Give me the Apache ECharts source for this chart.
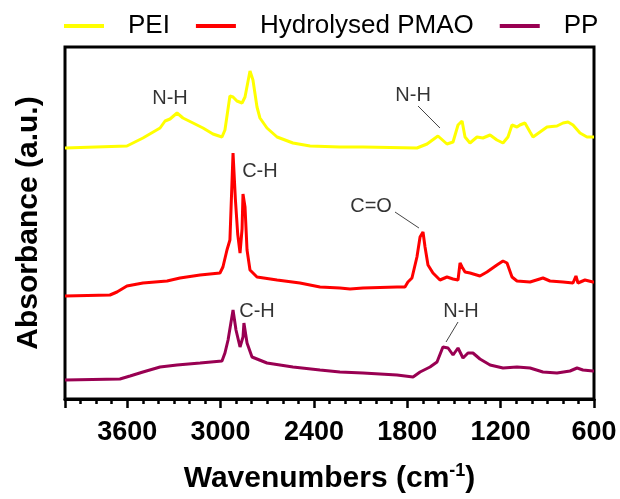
<!DOCTYPE html>
<html>
<head>
<meta charset="utf-8">
<script src="https://cdn.jsdelivr.net/npm/echarts@6/dist/echarts.min.js"></script>
<style>
html,body{margin:0;padding:0;background:#fff;}
#chart{width:620px;height:499px;}
</style>
</head>
<body>
<div id="chart"></div>
<script>
// [wavenumber, absorbance (offset, a.u.)]
var peiData = [
  [4000,251],[3602,253],[3499,261],[3389,271],[3357,278],[3325,280],[3280,286],[3242,281],
  [3177,276],[3113,271],[3049,265],[2991,262],[2972,269],[2940,303],[2920,302],[2895,298],
  [2862,296],[2843,302],[2811,328],[2792,319],[2766,292],[2747,281],[2702,271],[2637,262],
  [2535,256],[2425,253],[2233,252],[2085,252],[1738,251],[1673,255],[1603,263],[1545,255],
  [1506,257],[1474,274],[1448,278],[1429,262],[1397,256],[1352,262],[1314,261],[1268,264],
  [1224,259],[1185,256],[1153,262],[1127,274],[1095,272],[1076,274],[1044,276],[1011,267],
  [992,262],[947,267],[902,272],[838,273],[799,276],[767,277],[735,274],[690,266],[645,262],
  [607,262],[600,262]
];
var pmaoData = [
  [4000,103],[3711,104],[3666,107],[3602,113],[3499,116],[3344,118],[3261,121],[3132,124],
  [3004,126],[2985,132],[2959,149],[2940,159],[2920,246],[2905,200],[2890,165],[2875,146],
  [2862,170],[2856,205],[2843,192],[2830,149],[2811,129],[2766,122],[2637,119],[2490,116],
  [2361,112],[2233,111],[2168,110],[2085,111],[1866,112],[1815,112],[1796,117],[1770,121],
  [1738,142],[1718,162],[1699,167],[1686,152],[1667,134],[1635,126],[1590,119],[1545,122],
  [1506,120],[1474,119],[1461,136],[1448,132],[1429,127],[1397,126],[1333,123],[1288,127],
  [1224,134],[1185,138],[1159,136],[1127,122],[1095,118],[1011,117],[928,121],[883,118],
  [799,117],[735,116],[716,123],[703,116],[658,119],[607,117],[600,117]
];
var ppData = [
  [4000,19],[3647,20],[3582,23],[3499,27],[3389,32],[3280,34],[3132,36],[2991,38],
  [2972,46],[2952,59],[2920,89],[2901,69],[2875,52],[2856,62],[2850,76],[2830,56],
  [2798,42],[2702,36],[2535,32],[2361,29],[2233,27],[2085,26],[1866,24],[1763,22],
  [1718,27],[1654,32],[1609,37],[1571,52],[1538,51],[1506,44],[1474,51],[1442,41],
  [1410,46],[1378,46],[1333,40],[1268,34],[1185,31],[1095,32],[1011,31],[928,27],
  [838,26],[754,28],[709,31],[671,29],[607,28],[600,28]
];
var seriesNames = ['PEI', 'Hydrolysed PMAO', 'PP'];
var seriesColors = ['#ffff00', '#ff0000', '#990052'];

// peak labels [wavenumber, absorbance, text]
var peakLabels = [
  [3325,301,'N-H'],[1763,304,'N-H'],[2747,228,'C-H'],[2033,193,'C=O'],[2766,88,'C-H'],[1455,88,'N-H']
];
// leader lines [[x1,y1],[x2,y2]]
var leaderLines = [
  [[1731,293],[1590,271]],
  [[1879,187],[1725,171]],
  [[1474,77],[1551,57]]
];
var xTicks = [600, 1200, 1800, 2400, 3000, 3600];

var FONT = 'Arial, "Liberation Sans", sans-serif';
var chart = echarts.init(document.getElementById('chart'));

var curves = [peiData, pmaoData, ppData].map(function (d, i) {
  return {
    name: seriesNames[i], type: 'line', data: d, symbol: 'none',
    lineStyle: {width: 3, color: seriesColors[i]}, itemStyle: {color: seriesColors[i]},
    z: 3 - i
  };
});

chart.setOption({
  animation: false,
  backgroundColor: '#fff',
  legend: {
    data: seriesNames, left: 64, top: 13, padding: 0, icon: 'rect', itemWidth: 40, itemHeight: 4, itemGap: 26,
    textStyle: {fontFamily: FONT, fontSize: 26, color: '#000', padding: [0, 0, 0, 19]}
  },
  grid: {left: 65, right: 26, top: 47, bottom: 100, show: true, borderColor: '#000', borderWidth: 3},
  xAxis: {
    type: 'value', inverse: true, min: 600, max: 4000, interval: 600,
    name: 'Wavenumbers (cm{sup|-1})', nameLocation: 'middle', nameGap: 63,
    nameTextStyle: {
      fontFamily: FONT, fontSize: 30, fontWeight: 'bold', color: '#000',
      rich: {sup: {fontFamily: FONT, fontSize: 18, fontWeight: 'bold', color: '#000', padding: [0, 0, 15, 0]}}
    },
    axisLine: {show: true, lineStyle: {color: '#000', width: 3}},
    axisTick: {show: true, length: 9, lineStyle: {color: '#000', width: 2.5}},
    minorTick: {show: true, splitNumber: 6, length: 5, lineStyle: {color: '#000', width: 2.5}},
    splitLine: {show: false},
    axisLabel: {
      showMaxLabel: false, margin: 20, fontFamily: FONT, fontSize: 27, fontWeight: 'bold', color: '#000',
      formatter: function (v) { return xTicks.indexOf(v) >= 0 ? String(v) : ''; }
    }
  },
  yAxis: {
    type: 'value', min: 0, max: 352,
    name: 'Absorbance (a.u.)', nameLocation: 'middle', nameGap: 21,
    nameTextStyle: {fontFamily: FONT, fontSize: 30, fontWeight: 'bold', color: '#000'},
    axisLine: {show: false}, axisTick: {show: false}, axisLabel: {show: false}, splitLine: {show: false}
  },
  series: curves.concat([
    {
      type: 'scatter', name: 'labels', data: peakLabels, symbolSize: 0, silent: true, z: 5,
      label: {
        show: true, position: 'inside', fontFamily: FONT, fontSize: 20, color: '#000',
        formatter: function (p) { return p.value[2]; }
      }
    },
    {
      type: 'lines', coordinateSystem: 'cartesian2d', silent: true, z: 5,
      data: leaderLines.map(function (c) { return {coords: c}; }),
      lineStyle: {color: '#444', width: 1, opacity: 1}
    }
  ])
});
</script>
</body>
</html>
